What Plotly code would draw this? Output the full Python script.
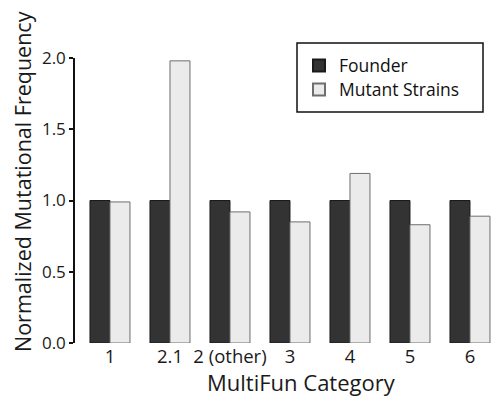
import plotly.graph_objects as go

categories = ["1", "2.1", "2 (other)", "3", "4", "5", "6"]
founder = [1.0, 1.0, 1.0, 1.0, 1.0, 1.0, 1.0]
mutant = [0.99, 1.98, 0.92, 0.85, 1.19, 0.83, 0.89]
y_ticks = [0.0, 0.5, 1.0, 1.5, 2.0]
y_tick_labels = ["0.0", "0.5", "1.0", "1.5", "2.0"]

FONT = "Open Sans"
INK = "#1a1a1a"

# plot area in pixels (used to place legend and titles in paper coordinates)
L, T, B, W, H = 75, 58, 57, 492, 400
PW, PH = W - L, H - T - B


def px_x(x):
    return (x - L) / PW


def px_y(y):
    return (H - B - y) / PH


legend_style = dict(
    xanchor="left", yanchor="middle", borderwidth=0, bgcolor="rgba(0,0,0,0)",
    font=dict(size=17.5, family=FONT, color="#111111"), itemsizing="constant",
)

fig = go.Figure()
fig.add_trace(go.Bar(
    x=list(range(len(categories))), y=founder, name="Founder", legend="legend",
    marker=dict(color="#333333", line=dict(color="#1a1a1a", width=1)),
))
fig.add_trace(go.Bar(
    x=list(range(len(categories))), y=mutant, name="Mutant Strains", legend="legend2",
    marker=dict(color="#ebebeb", line=dict(color="#6e6e6e", width=1)),
))

fig.update_layout(
    width=W, height=H,
    margin=dict(l=L, r=0, t=T, b=B),
    paper_bgcolor="white", plot_bgcolor="white",
    barmode="group", bargap=1/3, bargroupgap=0,
    font=dict(family=FONT, color=INK),
    showlegend=True,
    legend=dict(x=px_x(299), y=px_y(65.5), **legend_style),
    legend2=dict(x=px_x(299), y=px_y(89.5), **legend_style),
    shapes=[dict(
        type="rect", xref="paper", yref="paper", layer="below",
        x0=px_x(297), x1=px_x(483), y0=px_y(112), y1=px_y(43),
        line=dict(color="#111111", width=1.5), fillcolor="white",
    )],
    annotations=[
        dict(text="Normalized Mutational Frequency", textangle=-90,
             xref="paper", yref="paper", x=px_x(22), y=px_y(182),
             xanchor="center", yanchor="middle", showarrow=False,
             font=dict(size=21.5, family=FONT, color=INK)),
        dict(text="MultiFun Category",
             xref="paper", yref="paper", x=px_x(301), y=px_y(382),
             xanchor="center", yanchor="middle", showarrow=False,
             font=dict(size=22, family=FONT, color=INK)),
    ],
)
fig.update_xaxes(
    tickmode="array", tickvals=list(range(len(categories))), ticktext=categories,
    range=[-0.583, 6.367], showgrid=False, zeroline=False, showline=False,
    ticks="", tickfont=dict(size=18.5, family=FONT, color=INK),
    automargin=False,
)
fig.update_yaxes(
    range=[0, 2.0], tickmode="array", tickvals=y_ticks, ticktext=y_tick_labels,
    showgrid=False, zeroline=False, showline=True, linecolor="#111111", linewidth=1.5,
    ticks="outside", ticklen=4, tickwidth=1.5, tickcolor="#111111",
    tickfont=dict(size=17, family=FONT, color=INK),
    automargin=False,
)

fig.write_html("out.html")
